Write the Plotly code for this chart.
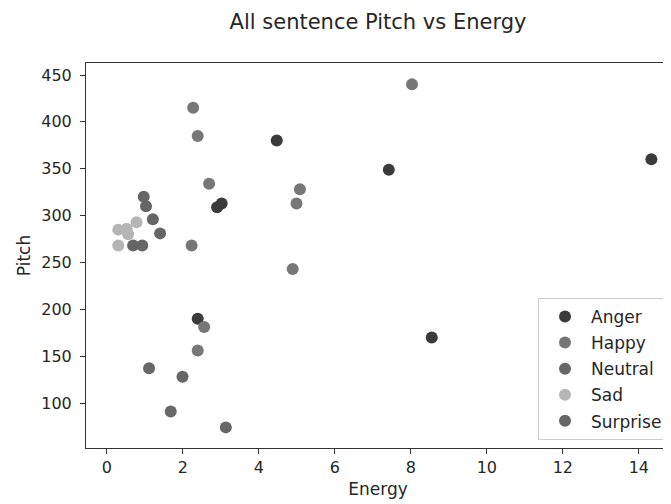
import plotly.graph_objects as go

# Energy / Pitch per emotion
anger_energy = [4.47, 7.42, 14.33, 8.55, 2.39, 2.90, 3.02]
anger_pitch = [380, 349, 360, 170, 190, 309, 313]

happy_energy = [2.27, 2.39, 8.03, 2.69, 5.08, 4.99, 4.89, 2.23, 2.56, 2.39]
happy_pitch = [415, 385, 440, 334, 328, 313, 243, 268, 181, 156]

neutral_energy = [0.97, 1.03, 1.21, 1.40, 0.69, 0.93]
neutral_pitch = [320, 310, 296, 281, 268, 268]

sad_energy = [0.30, 0.52, 0.78, 0.30, 0.56]
sad_pitch = [285, 286, 293, 268, 280]

surprise_energy = [1.11, 1.99, 1.68, 3.13]
surprise_pitch = [137, 128, 91, 74]

labels = ["Anger", "Happy", "Neutral", "Sad", "Surprise"]
colors = ["#3b3b3b", "#777777", "#666666", "#b5b5b5", "#676767"]
series = [
    (anger_energy, anger_pitch),
    (happy_energy, happy_pitch),
    (neutral_energy, neutral_pitch),
    (sad_energy, sad_pitch),
    (surprise_energy, surprise_pitch),
]

FONT = "DejaVu Sans"
INK = "#262626"

fig = go.Figure()
for name, col, (xs, ys) in zip(labels, colors, series):
    fig.add_trace(go.Scatter(
        x=xs, y=ys, mode="markers", name=name, legendgroup=name,
        marker=dict(color=col, size=12, line=dict(width=0)),
    ))

axis_common = dict(
    showgrid=False, zeroline=False, showline=True, linecolor="#333333",
    linewidth=1, mirror=True, ticks="outside", ticklen=5, tickcolor="#333333",
    tickfont=dict(family=FONT, size=16, color=INK),
)

# page body has an 8px margin, so the figure is a bit smaller than the window
fig.update_layout(
    width=663, height=496,
    paper_bgcolor="white", plot_bgcolor="white",
    margin=dict(l=78, r=1, t=55, b=56),
    font=dict(family=FONT, size=16, color=INK),
    title=dict(text="All sentence Pitch vs Energy", x=0.5, xref="paper",
               y=1 - 14 / 496, yref="container", yanchor="middle",
               font=dict(family=FONT, size=21, color=INK)),
    xaxis=dict(range=[-0.55, 14.82], tickvals=[0, 2, 4, 6, 8, 10, 12, 14],
               title=dict(text="Energy", standoff=6,
                          font=dict(family=FONT, size=17, color=INK)),
               **axis_common),
    yaxis=dict(range=[52, 462.8], tickvals=[100, 150, 200, 250, 300, 350, 400, 450],
               ticklabelstandoff=5,
               title=dict(text="Pitch", standoff=6,
                          font=dict(family=FONT, size=17, color=INK)),
               **axis_common),
    legend=dict(x=0.9966, y=0.021, xanchor="right", yanchor="bottom",
                bgcolor="rgba(255,255,255,0.8)", bordercolor="#cccccc",
                borderwidth=1, tracegroupgap=1, itemwidth=42,
                font=dict(family=FONT, size=17, color=INK)),
)

fig.write_html("out.html")
